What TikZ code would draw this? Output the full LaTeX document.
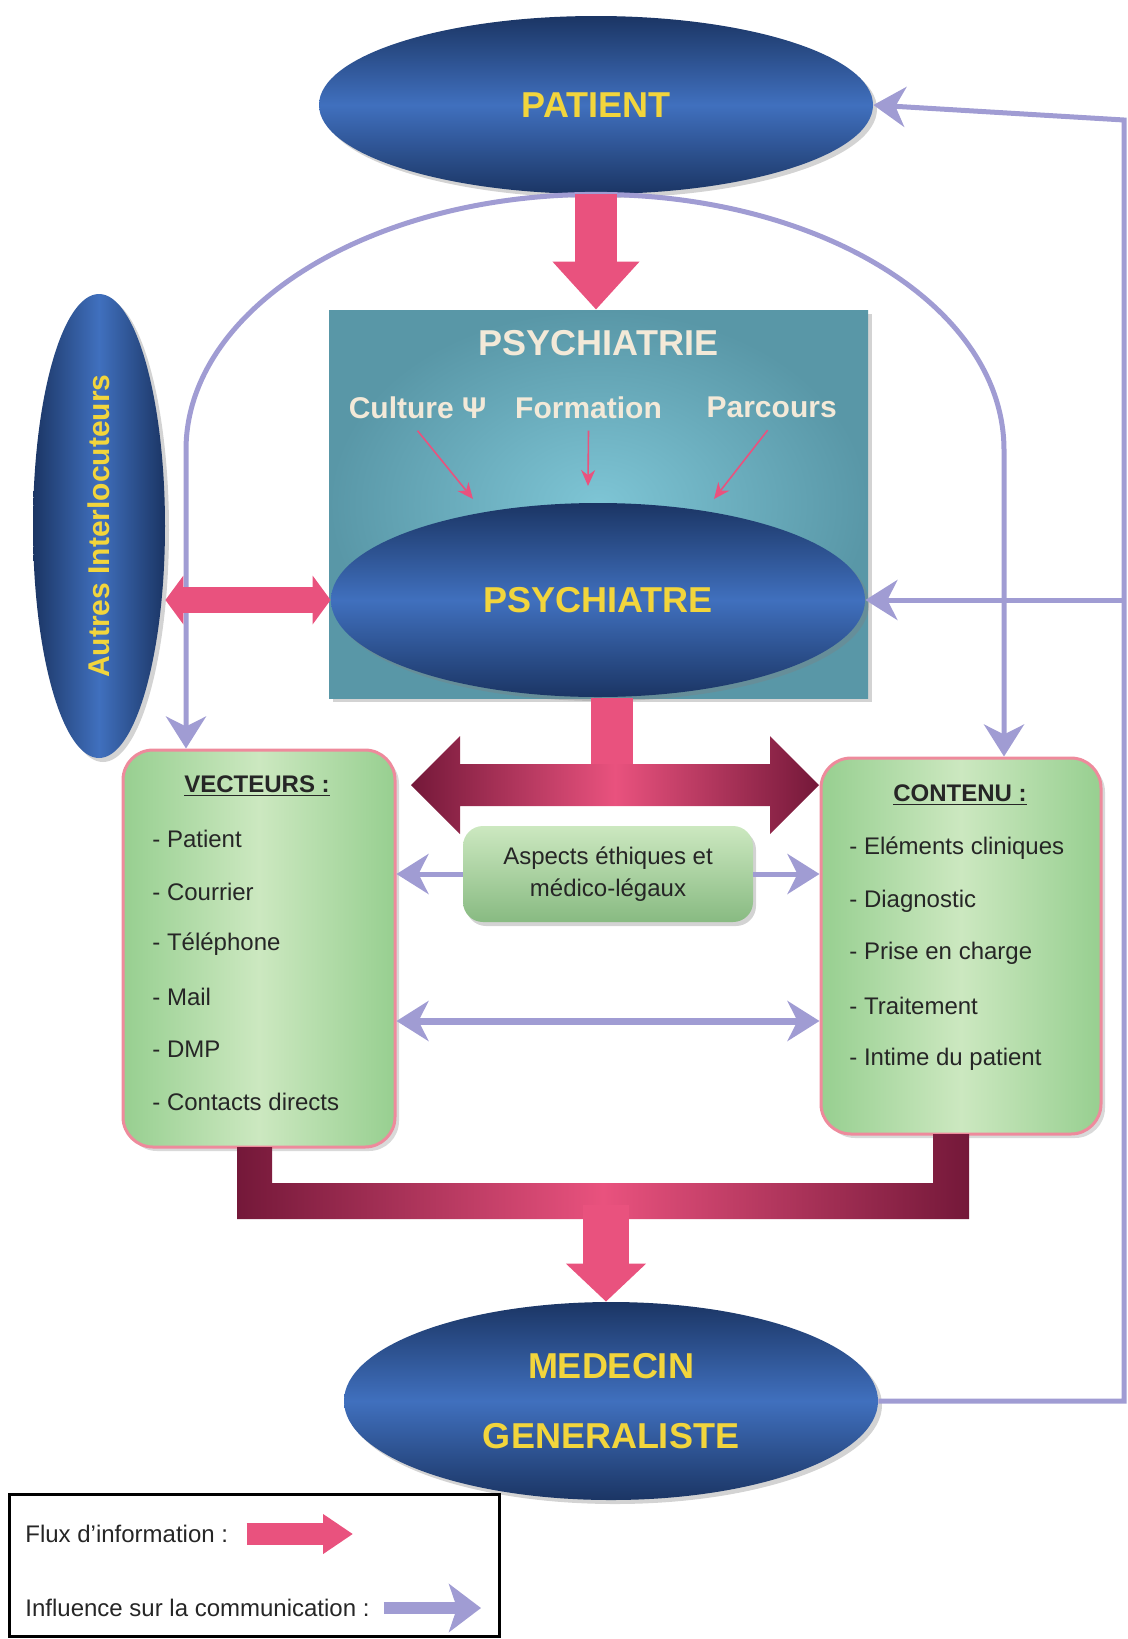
\documentclass[tikz,border=0pt]{standalone}
\usepackage{fontspec}
\setmainfont{Liberation Sans}
\usetikzlibrary{shapes.geometric,arrows.meta,positioning,shadows}

\definecolor{navy}{HTML}{1B3564}
\definecolor{midblue}{HTML}{4070BE}
\definecolor{gold}{HTML}{F2D53C}
\definecolor{cream}{HTML}{F3E9D8}
\definecolor{tealout}{HTML}{5997A7}
\definecolor{tealin}{HTML}{7EC5D5}
\definecolor{fluxpink}{HTML}{E9527E}
\definecolor{maroon}{HTML}{741839}
\definecolor{lavender}{HTML}{A09CD3}
\definecolor{leaf}{HTML}{97CF90}
\definecolor{paleleaf}{HTML}{CCE8C0}
\definecolor{rim}{HTML}{EE8A9C}

\tikzset{
  blob/.style={ellipse, inner sep=0pt, top color=navy, bottom color=navy, middle color=midblue,
    drop shadow={opacity=0.35, shadow xshift=2pt, shadow yshift=-2pt},
    text=gold, font=\fontsize{18}{22}\selectfont\bfseries},
  tealbox/.style={rectangle, inner color=tealin, outer color=tealout,
    drop shadow={opacity=0.35, shadow xshift=2pt, shadow yshift=-2pt}},
  paletext/.style={inner sep=0pt, text=cream, font=\fontsize{18}{22}\selectfont\bfseries},
  subtext/.style={font=\fontsize{15}{18}\selectfont\bfseries},
  greenbox/.style={rectangle, rounded corners=15pt, draw=rim, line width=1.5pt,
    left color=leaf, right color=leaf, middle color=paleleaf,
    drop shadow={opacity=0.3, shadow xshift=2pt, shadow yshift=-2pt}},
  head/.style={inner sep=0pt, text=black!85, font=\fontsize{12}{14}\selectfont\bfseries},
  item/.style={anchor=west, inner sep=0pt, text=black!85, font=\fontsize{12}{14}\selectfont},
  flux/.style={fluxpink, line width=21pt, >={Triangle[length=24pt, width=42pt]}, ->},
  infl/.style={lavender, line width=2.5pt, >={Stealth[length=16pt, width=20pt, inset=5pt]}, ->},
  hint/.style={fluxpink, line width=0.8pt, -{Stealth[length=8pt, width=7pt]}}
}

\begin{document}
\begin{tikzpicture}[x=0.5pt, y=-0.5pt]
  \useasboundingbox (0,0) rectangle (1128,1639);

  % top of the picture
  \node(patient) [blob, minimum width=277pt, minimum height=89pt] at (596,105) {PATIENT};
  \node(psychiatrie) [tealbox, minimum width=269.5pt, minimum height=194pt] at (598.5,504) {};
  \node(psytitle) [paletext, below=10pt of psychiatrie.north] {PSYCHIATRIE};
  \node(formation) [paletext, subtext, below=20pt of psytitle, xshift=-5pt] {Formation};
  \node(culture) [paletext, subtext, left=14pt of formation] {Culture Ψ};
  \node(parcours) [paletext, subtext, right=22pt of formation] {Parcours};
  \node(psychiatre) [blob, minimum width=267pt, minimum height=97pt] at (598,600) {PSYCHIATRE};
  \node(autres) [blob, left color=navy, right color=navy, middle color=midblue,
    minimum width=66pt, minimum height=232pt] at (99,526) {};
  \node(autrestxt) [rotate=90, inner sep=0pt, text=gold, font=\fontsize{15}{18}\selectfont\bfseries] at (autres) {Autres Interlocuteurs};

  \coordinate (tipcul) at (473,499);
  \coordinate (tipfor) at (588,486);
  \coordinate (tippar) at (714,499);
  \draw[hint] ([yshift=-6pt]culture.south) -- (tipcul);
  \draw[hint] ([yshift=-6pt]formation.south) -- (tipfor);
  \draw[hint] ([yshift=-6pt, xshift=-2pt]parcours.south) -- (tippar);

  % middle boxes
  \node(vect) [greenbox, minimum width=136pt, minimum height=198.5pt] at (259,948.5) {};
  \node(vechead) [head] at (257,786) {\underline{VECTEURS :}};
  \foreach \txt [count=\i] in {Patient,Courrier,Téléphone,Mail,DMP,Contacts directs}
    \node(vec\i) [item] at (152,{839+52.6*(\i-1)}) {- \txt};

  \node(cont) [greenbox, minimum width=140pt, minimum height=188pt] at (961,946) {};
  \node(conthead) [head] at (960,795) {\underline{CONTENU :}};
  \foreach \txt [count=\i] in {Eléments cliniques,Diagnostic,Prise en charge,Traitement,Intime du patient}
    \node(cont\i) [item] at (849,{848+52.8*(\i-1)}) {- \txt};

  \node(aspects) [rectangle, rounded corners=10pt, minimum width=145pt, minimum height=48pt,
    top color=paleleaf, bottom color=leaf!90!black, align=center, text=black!85,
    font=\fontsize{12}{16}\selectfont,
    drop shadow={opacity=0.35, shadow xshift=1.5pt, shadow yshift=-2pt}] at (608,874)
    {Aspects éthiques et\\médico-légaux};

  \node(medecin) [blob, minimum width=267pt, minimum height=99pt, align=center] at (611,1401)
    {MEDECIN\\[13pt]GENERALISTE};

  % influence lines
  \coordinate (archL) at (186,450);
  \coordinate (archR) at (1004,450);
  \coordinate (rail) at (1124,120);
  \coordinate (midrow) at (600,1021);
  \draw[infl] (patient.south) .. controls +(-226,0) and +(0,-142) .. (archL) -- (vect.north -| archL);
  \draw[infl] (patient.south) .. controls +(226,0) and +(0,-142) .. (archR) -- (cont.north -| archR);
  \draw[infl] (medecin.east) -| (rail) -- (patient.east);
  \draw[infl] (rail |- psychiatre.east) -- (psychiatre.east);
  \draw[infl] (aspects.west) -- (aspects.west -| vect.east);
  \draw[infl] (aspects.east) -- (aspects.east -| cont.west);
  \draw[infl, line width=3.5pt, <->] (vect.east |- midrow) -- (cont.west |- midrow);

  % information flow
  \draw[flux] (patient.south) -- (patient.south |- psychiatrie.north);
  \draw[flux, line width=13pt, >={Triangle[length=9pt, width=24pt]}, <->]
    (autres.east |- psychiatre.west) -- (psychiatre.west);
  \coordinate (dblc) at (612,785);
  \draw[fluxpink, line width=21pt] (psychiatrie.south -| dblc) -- (dblc);
  \shade[left color=maroon, right color=maroon, middle color=fluxpink]
    (411,785) -- (460,736) -- (460,764) -- (770,764) -- (770,736) -- (819,785)
    -- (770,834) -- (770,806) -- (460,806) -- (460,834) -- cycle;
  \shade[left color=maroon, right color=maroon, middle color=fluxpink]
    (237,1147) -- (237,1219) -- (969,1219) -- (969,1134) -- (933,1134)
    -- (933,1183) -- (272,1183) -- (272,1147) -- cycle;
  \coordinate (ubar) at (606,1205);
  \draw[flux, line width=23pt, >={Triangle[length=19pt, width=39pt]}] (ubar) -- (ubar |- medecin.north);

  % legend
  \node(legend) [draw=black, line width=1.5pt, minimum width=245pt, minimum height=71pt, inner sep=0pt] at (254,1565) {};
  \node(fluxtxt) [item] at (25,1534) {Flux d'information :};
  \node(infltxt) [item] at (25,1608) {Influence sur la communication :};
  \coordinate (fluxend) at (353,1534);
  \coordinate (inflend) at (481,1608);
  \draw[flux, line width=11pt, >={Triangle[length=15pt, width=19pt]}] ([xshift=9pt]fluxtxt.east) -- (fluxend);
  \draw[infl, line width=6pt, >={Stealth[length=16pt, width=24pt, inset=4pt]}] ([xshift=7pt]infltxt.east) -- (inflend);
\end{tikzpicture}
\end{document}
